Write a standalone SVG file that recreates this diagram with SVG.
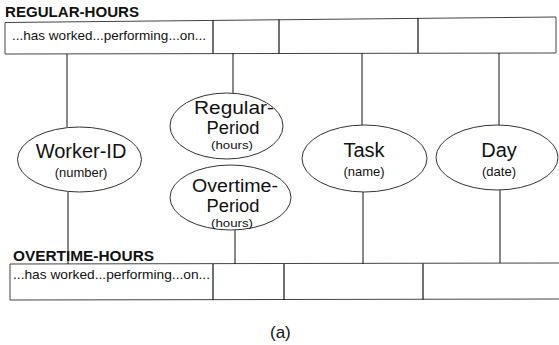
<svg xmlns="http://www.w3.org/2000/svg" width="559" height="345" viewBox="0 0 559 345">
  <style>
    .frame { fill: none; stroke: #444; stroke-width: 1; }
    .div { stroke: #111; stroke-width: 1.2; }
    .conn { stroke: #111; stroke-width: 1; fill: none; }
    .attr { fill: #fff; stroke: #333; stroke-width: 1; }
    .title { font-family: "Liberation Sans", Arial, sans-serif; font-weight: bold; font-size: 14px; fill: #111; }
    .row { font-family: "Liberation Sans", Arial, sans-serif; font-size: 13.5px; fill: #111; }
    .name { font-family: "Liberation Sans", Arial, sans-serif; font-size: 20px; fill: #111; text-anchor: middle; }
    .stack { font-family: "Liberation Sans", Arial, sans-serif; font-size: 18px; fill: #111; text-anchor: middle; }
    .type { font-family: "Liberation Sans", Arial, sans-serif; font-size: 13px; fill: #111; text-anchor: middle; }
    .small { font-family: "Liberation Sans", Arial, sans-serif; font-size: 11.5px; fill: #111; text-anchor: middle; }
    .cap { font-family: "Liberation Sans", Arial, sans-serif; font-size: 17px; fill: #111; }
  </style>

  <!-- REGULAR-HOURS relation -->
  <g id="regular-hours">
    <text class="title" x="5" y="17" textLength="134" lengthAdjust="spacingAndGlyphs">REGULAR-HOURS</text>
    <polygon class="frame" points="5,22.5 556,17 556,53 5,54"/>
    <line class="div" x1="213" y1="20" x2="213" y2="53.5"/>
    <line class="div" x1="279" y1="19.5" x2="279" y2="53.5"/>
    <line class="div" x1="418" y1="18" x2="418" y2="53"/>
    <text class="row" x="12" y="40" textLength="194" lengthAdjust="spacingAndGlyphs">...has worked...performing...on...</text>
  </g>

  <!-- OVERTIME-HOURS relation -->
  <g id="overtime-hours">
    <text class="title" x="13" y="261" textLength="141" lengthAdjust="spacingAndGlyphs">OVERTIME-HOURS</text>
    <polyline class="frame" points="559,263 10,264 10,300 559,299"/>
    <line class="div" x1="213" y1="264" x2="213" y2="300"/>
    <line class="div" x1="284" y1="264" x2="284" y2="300"/>
    <line class="div" x1="423" y1="263.5" x2="423" y2="299.5"/>
    <text class="row" x="13" y="279" textLength="197" lengthAdjust="spacingAndGlyphs">...has worked...performing...on...</text>
  </g>

  <!-- connectors between relation columns and attributes -->
  <g id="connectors">
    <line class="conn" x1="67" y1="54" x2="67" y2="127"/>
    <line class="conn" x1="68" y1="192" x2="68" y2="264"/>
    <line class="conn" x1="233" y1="53" x2="233" y2="93"/>
    <line class="conn" x1="235" y1="230" x2="235" y2="264"/>
    <line class="conn" x1="362" y1="53" x2="362" y2="125"/>
    <line class="conn" x1="363" y1="192" x2="363" y2="264"/>
    <line class="conn" x1="499" y1="53" x2="499" y2="125"/>
    <line class="conn" x1="500" y1="190" x2="500" y2="263"/>
  </g>

  <!-- attribute domains -->
  <g id="worker-id">
    <ellipse class="attr" cx="79.5" cy="159.5" rx="62" ry="32.5"/>
    <text class="name" x="81" y="158" font-size="21">Worker-ID</text>
    <text class="type" x="81" y="177">(number)</text>
  </g>

  <g id="regular-period">
    <ellipse class="attr" cx="226.5" cy="126" rx="56.5" ry="33"/>
    <text class="stack" x="234" y="114" textLength="80" lengthAdjust="spacingAndGlyphs">Regular-</text>
    <text class="stack" x="233" y="134" textLength="53" lengthAdjust="spacingAndGlyphs">Period</text>
    <text class="small" x="232" y="149" textLength="42" lengthAdjust="spacingAndGlyphs">(hours)</text>
  </g>

  <g id="overtime-period">
    <ellipse class="attr" cx="230.5" cy="197.5" rx="60.5" ry="32.5"/>
    <text class="stack" x="235" y="192" textLength="86" lengthAdjust="spacingAndGlyphs">Overtime-</text>
    <text class="stack" x="233" y="212" textLength="53" lengthAdjust="spacingAndGlyphs">Period</text>
    <text class="small" x="232" y="226.5" textLength="42" lengthAdjust="spacingAndGlyphs">(hours)</text>
  </g>

  <g id="task">
    <ellipse class="attr" cx="364.5" cy="158.5" rx="62.5" ry="33.5"/>
    <text class="name" x="364" y="157">Task</text>
    <text class="type" x="364" y="176">(name)</text>
  </g>

  <g id="day">
    <ellipse class="attr" cx="497" cy="157.5" rx="61" ry="32.5"/>
    <text class="name" x="499" y="157">Day</text>
    <text class="type" x="499" y="176">(date)</text>
  </g>

  <text class="cap" x="270" y="338">(a)</text>
</svg>
